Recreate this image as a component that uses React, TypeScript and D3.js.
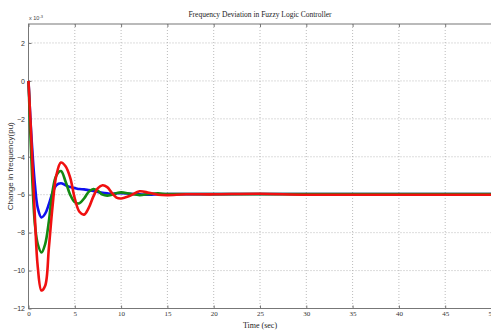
import { useEffect, useRef } from 'react';
import * as d3 from 'd3';

const width = 491;
const height = 331;
const [mt, mr, mb, ml] = [24, 0, 22.5, 28.5];
const graphWidth = width - ml - mr + 0.5;
const graphHeight = height - mt - mb;

// time samples (sec)
const times = [0, 0.3, 0.7, 1.0, 1.4, 1.8, 2.2, 2.6, 3.0, 3.5, 4.0, 4.5, 5.0, 5.5, 6.0, 6.5, 7.0, 7.5, 8.0, 8.5, 9.0, 9.5, 10, 11, 12, 13, 14, 15, 17, 20, 25, 30, 40, 50];

// frequency deviation, x 10^-3 pu
const blueValues = [0, -2.8, -5.5, -6.7, -7.2, -7.0, -6.5, -5.9, -5.5, -5.4, -5.5, -5.6, -5.65, -5.7, -5.72, -5.76, -5.8, -5.85, -5.9, -5.93, -5.95, -5.93, -5.92, -5.95, -5.98, -6.0, -5.98, -5.97, -5.97, -5.97, -5.96, -5.96, -5.96, -5.96];
const greenValues = [0, -4.0, -7.6, -8.6, -9.05, -8.6, -7.4, -5.8, -5.0, -4.75, -5.3, -6.0, -6.4, -6.45, -6.2, -5.85, -5.7, -5.8, -6.0, -6.05, -6.0, -5.92, -5.88, -5.95, -6.02, -5.96, -5.93, -5.97, -5.96, -5.97, -5.97, -5.97, -5.97, -5.97];
const redValues = [0, -3.0, -7.3, -9.8, -11.05, -10.8, -8.8, -6.6, -5.0, -4.3, -4.5, -5.1, -6.2, -6.9, -7.05, -6.7, -6.1, -5.65, -5.5, -5.6, -5.9, -6.15, -6.2, -6.05, -5.82, -5.9, -6.0, -6.02, -5.98, -5.98, -5.95, -6.0, -6.0, -6.0];

const xTicks = [0, 5, 10, 15, 20, 25, 30, 35, 40, 45, 50];
const yTicks = [-12, -10, -8, -6, -4, -2, 0, 2];

const series = [
    { name: 'blue', color: '#1010f0', values: blueValues },
    { name: 'green', color: '#138a13', values: greenValues },
    { name: 'red', color: '#f01010', values: redValues }
];

function App() {
    const chart = useRef<SVGSVGElement>(null);

    useEffect(() => {
        const svg = d3.select(chart.current);
        svg.selectAll('*').remove();

        const x = d3.scaleLinear().domain([0, 50]).range([0, graphWidth]);
        const y = d3.scaleLinear().domain([-12, 3]).range([graphHeight, 0]);

        const graph = svg.append('g').attr('transform', `translate(${ml}, ${mt})`);

        // grid
        graph
            .append('g')
            .selectAll('line')
            .data(xTicks.slice(1, -1))
            .join('line')
            .attr('x1', (d) => x(d))
            .attr('x2', (d) => x(d))
            .attr('y1', 0)
            .attr('y2', graphHeight)
            .attr('stroke', '#aaa')
            .attr('stroke-width', 0.8)
            .attr('stroke-dasharray', '1,2');
        graph
            .append('g')
            .selectAll('line')
            .data(yTicks.slice(1))
            .join('line')
            .attr('x1', 0)
            .attr('x2', graphWidth)
            .attr('y1', (d) => y(d))
            .attr('y2', (d) => y(d))
            .attr('stroke', '#aaa')
            .attr('stroke-width', 0.8)
            .attr('stroke-dasharray', '1,2');

        // box
        graph
            .append('rect')
            .attr('width', graphWidth)
            .attr('height', graphHeight)
            .attr('fill', 'none')
            .attr('stroke', '#777')
            .attr('stroke-width', 1);

        // axes with inward ticks
        const xAxis = d3.axisBottom(x).tickValues(xTicks).tickSize(-3).tickPadding(3);
        graph
            .append('g')
            .attr('transform', `translate(0, ${graphHeight})`)
            .call(xAxis)
            .call((g) => g.select('.domain').remove())
            .call((g) => g.selectAll('.tick line').attr('stroke', '#777'))
            .call((g) =>
                g.selectAll('.tick text').attr('font-family', 'Liberation Serif').attr('font-size', 7).attr('fill', '#333')
            );
        graph
            .append('g')
            .call(d3.axisTop(x).tickValues(xTicks).tickSize(-3).tickFormat(() => ''))
            .call((g) => g.select('.domain').remove())
            .call((g) => g.selectAll('.tick line').attr('stroke', '#777'));

        const yAxis = d3.axisLeft(y).tickValues(yTicks).tickSize(-3).tickPadding(3.5);
        graph
            .append('g')
            .call(yAxis)
            .call((g) => g.select('.domain').remove())
            .call((g) => g.selectAll('.tick line').attr('stroke', '#777'))
            .call((g) =>
                g.selectAll('.tick text').attr('font-family', 'Liberation Sans').attr('font-size', 7).attr('fill', '#333')
            );

        // lines
        const line = d3
            .line<number>()
            .x((_, i) => x(times[i]))
            .y((d) => y(d))
            .curve(d3.curveCatmullRom);

        graph
            .append('g')
            .selectAll('path')
            .data(series)
            .join('path')
            .attr('d', (d) => line(d.values))
            .attr('fill', 'none')
            .attr('stroke', (d) => d.color)
            .attr('stroke-width', 2.6)
            .attr('stroke-linejoin', 'round');

        // labels
        svg.append('text')
            .attr('x', ml + graphWidth / 2)
            .attr('y', 17)
            .attr('text-anchor', 'middle')
            .attr('font-family', 'Liberation Serif')
            .attr('font-size', 7.5)
            .attr('fill', '#222')
            .text('Frequency Deviation in Fuzzy Logic Controller');

        svg.append('text')
            .attr('x', ml + graphWidth / 2)
            .attr('y', 328)
            .attr('text-anchor', 'middle')
            .attr('font-family', 'Liberation Serif')
            .attr('font-size', 8)
            .attr('fill', '#222')
            .text('Time (sec)');

        svg.append('text')
            .attr('transform', `translate(13, ${mt + graphHeight / 2}) rotate(-90)`)
            .attr('text-anchor', 'middle')
            .attr('font-family', 'Liberation Sans')
            .attr('font-size', 8)
            .attr('fill', '#333')
            .text('Change in frequency(pu)');

        const exp = svg
            .append('text')
            .attr('x', ml + 0.5)
            .attr('y', 20)
            .attr('font-family', 'Liberation Sans')
            .attr('font-size', 5.5)
            .attr('fill', '#444');
        exp.append('tspan').text('x 10');
        exp.append('tspan').attr('dy', -2.5).attr('font-size', 4).text('-3');
    }, []);

    return (
        <svg
            ref={chart}
            width={width}
            height={height}
            style={{ position: 'absolute', left: 0, top: 0, background: '#fff' }}
        />
    );
}

export default App;
